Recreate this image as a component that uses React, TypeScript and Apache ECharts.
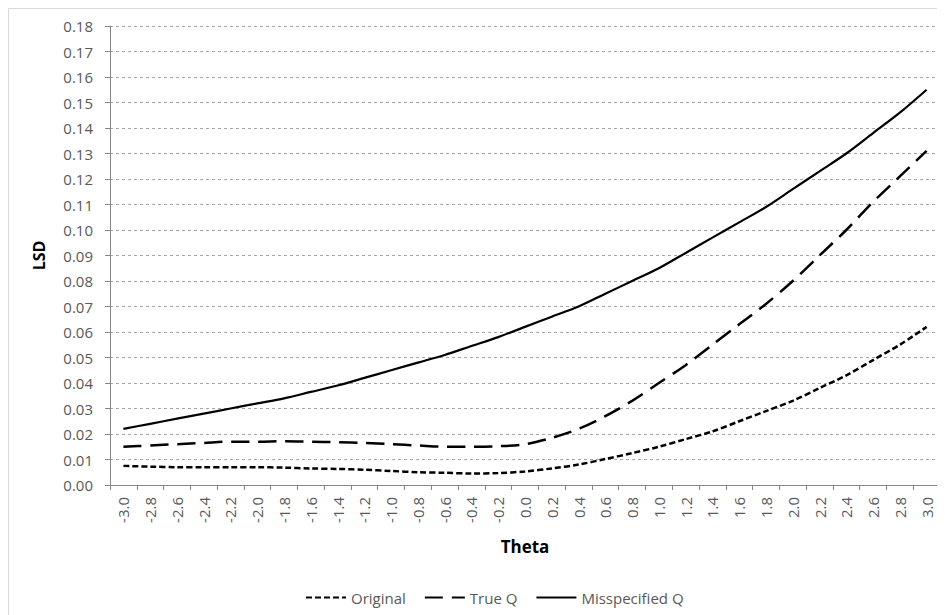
import React, { useEffect, useRef } from "react";
import * as echarts from "echarts";

const thetaLabels = [
  "-3.0", "-2.8", "-2.6", "-2.4", "-2.2", "-2.0", "-1.8", "-1.6", "-1.4", "-1.2", "-1.0",
  "-0.8", "-0.6", "-0.4", "-0.2", "0.0", "0.2", "0.4", "0.6", "0.8", "1.0",
  "1.2", "1.4", "1.6", "1.8", "2.0", "2.2", "2.4", "2.6", "2.8", "3.0",
];

const originalValues = [
  0.0075, 0.0072, 0.007, 0.007, 0.007, 0.007, 0.0068, 0.0065, 0.0063, 0.006, 0.0055,
  0.005, 0.0048, 0.0045, 0.0047, 0.0053, 0.0065, 0.008, 0.0102, 0.0125, 0.015,
  0.018, 0.021, 0.025, 0.029, 0.033, 0.038, 0.043, 0.049, 0.055, 0.062,
];

const trueQValues = [
  0.015, 0.0155, 0.016, 0.0165, 0.017, 0.017, 0.0172, 0.017, 0.0168, 0.0165, 0.016,
  0.0155, 0.015, 0.015, 0.0152, 0.016, 0.0185, 0.022, 0.027, 0.033, 0.04,
  0.047, 0.055, 0.063, 0.071, 0.08, 0.09, 0.1, 0.111, 0.121, 0.131,
];

const misspecifiedValues = [
  0.022, 0.024, 0.026, 0.028, 0.03, 0.032, 0.034, 0.0365, 0.039, 0.042, 0.045,
  0.048, 0.051, 0.0545, 0.058, 0.062, 0.066, 0.07, 0.075, 0.08, 0.085,
  0.091, 0.097, 0.103, 0.109, 0.116, 0.123, 0.13, 0.138, 0.146, 0.155,
];

const seriesNames = ["Original", "True Q", "Misspecified Q"];

const FONT = "'Open Sans', sans-serif";

export default function App() {
  const ref = useRef<HTMLDivElement>(null);

  useEffect(() => {
    if (!ref.current) return;
    document.body.style.overflow = "hidden";
    const chart = echarts.init(ref.current, undefined, { renderer: "svg" });
    const lineBase = { type: "line", symbol: "none", smooth: 0.3 };
    chart.setOption({
      animation: false,
      backgroundColor: "#ffffff",
      graphic: [
        {
          type: "rect",
          shape: { x: 0.5, y: 0.5, width: 1200, height: 1200 },
          style: { fill: "none", stroke: "#d9d9d9", lineWidth: 1 },
          silent: true,
        },
      ],
      grid: { left: 102, top: 18, right: 5, bottom: 130, containLabel: false },
      legend: {
        top: 577,
        left: 292,
        itemWidth: 40,
        itemHeight: 10,
        itemGap: 18,
        itemStyle: { opacity: 0 },
        textStyle: { fontFamily: FONT, fontSize: 15, color: "#595959" },
        data: seriesNames,
      },
      xAxis: {
        type: "category",
        data: thetaLabels,
        boundaryGap: true,
        name: "Theta",
        nameLocation: "middle",
        nameGap: 53,
        nameTextStyle: { fontFamily: FONT, fontSize: 17, fontWeight: "bold", color: "#000" },
        axisLine: { lineStyle: { color: "#868686", width: 1 } },
        axisTick: { show: true, alignWithLabel: false, length: 5, lineStyle: { color: "#868686" } },
        axisLabel: {
          rotate: 90,
          interval: 0,
          margin: 12,
          fontFamily: FONT,
          fontSize: 15,
          color: "#595959",
        },
        splitLine: { show: false },
      },
      yAxis: {
        type: "value",
        min: 0,
        max: 0.18,
        interval: 0.01,
        name: "LSD",
        nameLocation: "middle",
        nameGap: 63,
        nameRotate: 90,
        nameTextStyle: { fontFamily: FONT, fontSize: 16, fontWeight: "bold", color: "#000" },
        axisLine: { show: true, lineStyle: { color: "#868686", width: 1 } },
        axisTick: { show: true, length: 5, lineStyle: { color: "#868686" } },
        axisLabel: {
          margin: 17,
          fontFamily: FONT,
          fontSize: 15,
          color: "#595959",
          formatter: (v: number) => v.toFixed(2),
        },
        splitLine: {
          show: true,
          lineStyle: { color: "#a6a6a6", width: 1, type: [3, 3] },
        },
      },
      series: [
        {
          ...lineBase,
          name: seriesNames[0],
          data: originalValues,
          lineStyle: { color: "#000", width: 2.5, type: [6, 3] },
          itemStyle: { color: "#000" },
        },
        {
          ...lineBase,
          name: seriesNames[1],
          data: trueQValues,
          lineStyle: { color: "#000", width: 2.5, type: [18, 9] },
          itemStyle: { color: "#000" },
        },
        {
          ...lineBase,
          name: seriesNames[2],
          data: misspecifiedValues,
          lineStyle: { color: "#000", width: 2.2, type: "solid" },
          itemStyle: { color: "#000" },
        },
      ],
    });
    return () => chart.dispose();
  }, []);

  return <div ref={ref} style={{ width: 937, height: 607 }} />;
}
